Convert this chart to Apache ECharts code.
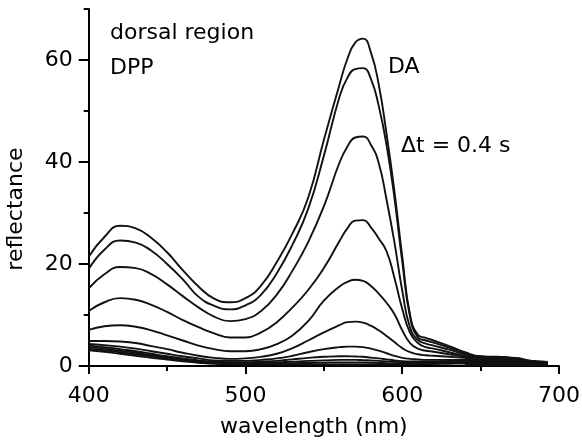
<!DOCTYPE html>
<html><head><meta charset="utf-8">
<script src="https://cdn.jsdelivr.net/npm/echarts@6/dist/echarts.min.js"></script>
<style>html,body{margin:0;padding:0;background:#fff}#c{width:582px;height:445px}</style>
</head><body><div id="c"></div>
<script>
const wavelengths = [400,410,420,430,440,450,460,470,480,490,500,510,520,530,540,550,560,565,570,575,580,585,590,595,600,605,610,615,620,630,640,650,660,670,680,692];
const curve1 = [21.4,25.3,27.5,27.0,25.1,22.3,18.8,15.6,13.2,12.5,13.3,15.8,20.4,26.0,33.0,44.3,55.2,60.2,63.4,64.2,61.5,55.2,45.5,34.3,21.5,10.0,6.1,5.5,5.0,3.9,2.7,1.9,1.8,1.6,1.1,0.8];
const curve2 = [19.0,22.8,24.6,24.2,22.6,20.0,17.0,13.6,11.8,11.1,11.9,14.0,18.2,23.8,30.8,41.2,52.8,56.5,58.2,58.4,56.3,51.0,43.3,33.0,20.5,9.6,5.6,5.0,4.6,3.6,2.5,1.8,1.7,1.5,1.0,0.8];
const curve3 = [15.2,18.0,19.4,19.2,18.0,16.0,13.7,11.5,9.7,8.8,9.2,10.8,14.0,18.7,24.3,31.3,39.9,43.0,44.8,45.0,43.4,39.8,32.6,24.3,14.8,7.5,5.1,4.4,4.0,3.2,2.3,1.8,1.7,1.5,1.0,0.8];
const curve4 = [10.8,12.5,13.3,13.0,12.0,10.6,9.0,7.6,6.4,5.6,5.6,6.6,8.6,11.5,14.9,19.2,24.5,27.0,28.5,28.6,27.2,25.0,22.5,17.3,11.2,6.5,4.5,3.7,3.4,2.7,2.0,1.7,1.6,1.4,0.9,0.7];
const curve5 = [7.1,7.8,8.0,7.7,7.0,6.0,5.0,4.0,3.3,2.9,2.9,3.3,4.3,6.0,8.8,12.8,15.6,16.5,16.9,16.7,15.7,14.2,12.4,10.2,7.0,4.5,3.4,3.0,2.8,2.3,1.8,1.6,1.5,1.3,0.8,0.6];
const curve6 = [4.9,4.9,4.8,4.5,3.9,3.3,2.6,2.0,1.6,1.4,1.5,1.8,2.4,3.5,5.0,6.6,8.0,8.6,8.7,8.5,7.9,7.0,5.9,4.7,3.5,2.7,2.3,2.1,2.0,1.8,1.6,1.4,1.3,1.2,0.7,0.5];
const curve7 = [4.3,4.1,3.8,3.4,2.9,2.4,1.9,1.5,1.1,1.0,1.0,1.2,1.5,2.0,2.7,3.3,3.7,3.8,3.8,3.7,3.4,3.0,2.5,2.0,1.6,1.4,1.3,1.2,1.2,1.2,1.2,1.2,1.1,1.0,0.6,0.5];
const curve8 = [4.0,3.7,3.3,2.9,2.4,1.9,1.5,1.1,0.85,0.75,0.75,0.85,1.0,1.3,1.6,1.8,1.9,1.9,1.85,1.8,1.65,1.5,1.3,1.1,0.95,0.9,0.9,0.9,0.9,1.0,1.0,1.0,0.9,0.8,0.6,0.45];
const curve9 = [3.7,3.4,3.0,2.6,2.1,1.7,1.3,0.95,0.7,0.6,0.55,0.6,0.7,0.85,1.0,1.1,1.2,1.2,1.2,1.15,1.1,1.0,0.9,0.8,0.75,0.7,0.7,0.7,0.75,0.8,0.85,0.85,0.8,0.75,0.55,0.4];
const curve10 = [3.4,3.1,2.7,2.3,1.9,1.5,1.1,0.8,0.6,0.5,0.45,0.45,0.5,0.55,0.6,0.65,0.7,0.7,0.7,0.7,0.65,0.6,0.55,0.5,0.5,0.5,0.5,0.5,0.55,0.6,0.7,0.75,0.7,0.65,0.5,0.35];
const curve11 = [3.1,2.8,2.4,2.0,1.6,1.25,0.9,0.65,0.45,0.35,0.3,0.3,0.3,0.3,0.3,0.3,0.3,0.3,0.3,0.3,0.3,0.3,0.3,0.3,0.3,0.3,0.3,0.35,0.4,0.45,0.5,0.6,0.55,0.5,0.4,0.3];
const tailWavelengths = [640,645,650,655,660,665,670,675,680,685,690,693];
const tailTop = [1.6,2.0,1.9,1.8,1.8,1.75,1.7,1.6,1.2,0.95,0.9,0.9];
const xMajorTicks = [400,500,600,700];
const xMinorTicks = [450,550,650];
const yMajorTicks = [0,20,40,60];
const yMinorTicks = [10,30,50,70];
const xTitle = 'wavelength (nm)';
const yTitle = 'reflectance';

const curves = [curve1,curve2,curve3,curve4,curve5,curve6,curve7,curve8,curve9,curve10,curve11];
const FONT = 'DejaVu Sans';
const ink = '#000';
const FS = 22;

const series = curves.map(c => ({
  type: 'line',
  data: wavelengths.map((w, i) => [w, c[i]]),
  showSymbol: false, smooth: 0.5, silent: true,
  lineStyle: { color: '#111', width: 1.9 }
}));
series.push({
  type: 'line',
  data: tailWavelengths.map((w, i) => [w, tailTop[i]]),
  showSymbol: false, smooth: 0.3, silent: true, z: 1,
  lineStyle: { color: '#111', width: 1 },
  areaStyle: { color: '#111', opacity: 1 }
});

const axisLineStyle = { color: ink, width: 2 };
const labelStyle = { color: ink, fontFamily: FONT, fontSize: FS };

const option = {
  animation: false,
  backgroundColor: '#fff',
  grid: { left: 88.7, right: 23, top: 9, bottom: 79, containLabel: false, outerBoundsMode: 'none' },
  xAxis: [{
    type: 'value', min: 400, max: 700, interval: 100, position: 'bottom',
    axisLine: { show: true, onZero: false, lineStyle: axisLineStyle },
    axisTick: { show: true, length: 8, lineStyle: axisLineStyle, customValues: xMajorTicks },
    axisLabel: Object.assign({ customValues: xMajorTicks, margin: 19 }, labelStyle),
    splitLine: { show: false },
    name: xTitle, nameLocation: 'middle', nameGap: 50,
    nameTextStyle: Object.assign({ padding: [0, 20, 0, 0] }, labelStyle)
  }, {
    type: 'value', min: 400, max: 700, interval: 50, position: 'bottom',
    axisLine: { show: false, onZero: false },
    axisTick: { show: true, length: 5, lineStyle: axisLineStyle, customValues: xMinorTicks },
    axisLabel: { show: false }, splitLine: { show: false }
  }],
  yAxis: [{
    type: 'value', min: 0, max: 70, interval: 10, position: 'left',
    axisLine: { show: true, onZero: false, lineStyle: axisLineStyle },
    axisTick: { show: true, length: 10, lineStyle: axisLineStyle, customValues: yMajorTicks },
    axisLabel: Object.assign({ customValues: yMajorTicks, margin: 16 }, labelStyle),
    splitLine: { show: false },
    name: yTitle, nameLocation: 'middle', nameGap: 61,
    nameTextStyle: Object.assign({ padding: [0, 43, 0, 0] }, labelStyle)
  }, {
    type: 'value', min: 0, max: 70, interval: 10, position: 'left',
    axisLine: { show: false, onZero: false },
    axisTick: { show: true, length: 5, lineStyle: axisLineStyle, customValues: yMinorTicks },
    axisLabel: { show: false }, splitLine: { show: false }
  }],
  graphic: [
    { type: 'text', silent: true, style: { text: 'dorsal region', x: 110, y: 33, fill: ink, fontFamily: FONT, fontSize: FS, verticalAlign: 'middle', align: 'left' } },
    { type: 'text', silent: true, style: { text: 'DPP', x: 110, y: 68, fill: ink, fontFamily: FONT, fontSize: FS, verticalAlign: 'middle', align: 'left' } },
    { type: 'text', silent: true, style: { text: 'DA', x: 388, y: 67.5, fill: ink, fontFamily: FONT, fontSize: FS, verticalAlign: 'middle', align: 'left' } },
    { type: 'text', silent: true, style: { text: 'Δt = 0.4 s', x: 401, y: 146.5, fill: ink, fontFamily: FONT, fontSize: FS, verticalAlign: 'middle', align: 'left' } }
  ],
  series: series
};
const chart = echarts.init(document.getElementById('c'), null, { renderer: 'canvas' });
chart.setOption(option);
</script>
</body></html>
